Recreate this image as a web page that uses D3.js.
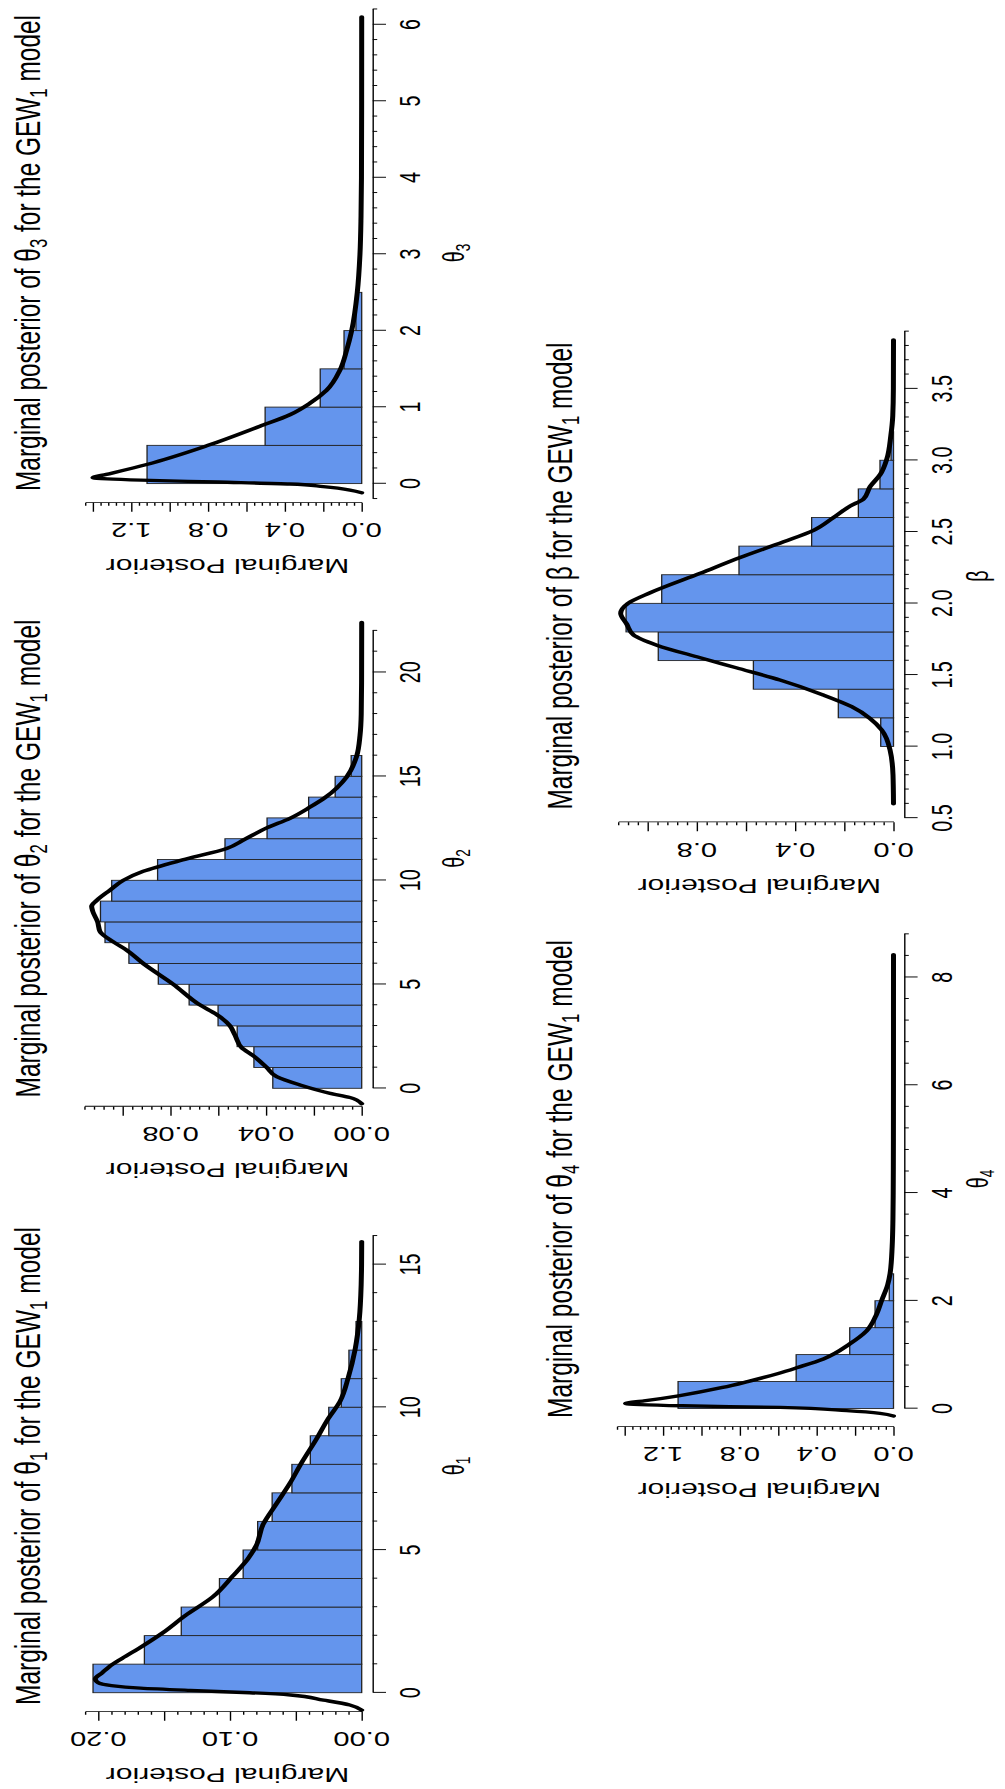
<!DOCTYPE html>
<html>
<head>
<meta charset="utf-8">
<script src="https://cdn.jsdelivr.net/npm/d3@7/dist/d3.min.js"></script>
<style>
  html, body { margin: 0; padding: 0; background: #fff; }
  svg { display: block; }
  text { font-family: "Liberation Sans", Arial, Helvetica, sans-serif; fill: #000; }
</style>
</head>
<body>
<svg id="chart" width="1005" height="1789"></svg>
<script>
// ---------- θ1 ----------
const theta1Breaks = [0,1,2,3,4,5,6,7,8,9,10,11,12,13];
const theta1Density = [0.204,0.165,0.137,0.108,0.090,0.079,0.068,0.053,0.039,0.025,0.0155,0.0097,0.0043];
const theta1CurveX = [-0.61,-0.43,-0.26,-0.08,0,0.08,0.16,0.25,0.35,0.48,0.7,0.9,1.2,1.56,2.1,2.7,3.36,4.08,4.68,5.16,5.88,6.6,7.32,8.04,8.88,9.6,10.2,11.04,12.0,13.1,14.3,15.0,15.8];
const theta1CurveY = [0,0.009,0.029,0.054,0.085,0.13,0.168,0.19,0.2,0.2023,0.197,0.192,0.182,0.169,0.151,0.134,0.113,0.098,0.0865,0.080,0.075,0.065,0.0547,0.0458,0.0344,0.0254,0.0165,0.0102,0.0051,0.0018,0.0004,0.0001,0];
const theta1XAxis = [0, 16];
const theta1XLabels = ["0","5","10","15"];
const theta1YAxis = [0, 0.21];
const theta1YLabels = ["0.00","0.10","0.20"];

// ---------- θ2 ----------
const theta2Breaks = [0,1,2,3,4,5,6,7,8,9,10,11,12,13,14,15,16];
const theta2Density = [0.0372,0.0451,0.0521,0.0601,0.0722,0.0851,0.0974,0.1074,0.1093,0.1046,0.0854,0.0572,0.0396,0.0222,0.0111,0.0044];
const theta2CurveX = [-0.74,-0.44,-0.24,0.16,0.56,1.0,1.56,1.95,2.55,3.0,3.55,4.0,5.0,6.0,6.64,7.04,7.54,8.0,8.5,8.75,9.03,9.53,10.0,10.43,11.03,11.53,11.98,12.52,12.98,13.52,13.98,14.97,15.97,16.97,17.97,19.5,22.4];
const theta2CurveY = [0,0.0049,0.0132,0.0258,0.0356,0.0397,0.0453,0.0502,0.053,0.0551,0.0607,0.0676,0.0788,0.0914,0.0983,0.1039,0.1095,0.1105,0.1125,0.113,0.1109,0.1053,0.0997,0.0914,0.0732,0.0565,0.0488,0.0397,0.03,0.0216,0.0153,0.0063,0.0021,0.0007,0.0002,0.00005,0];
const theta2XAxis = [0, 22];
const theta2XLabels = ["0","5","10","15","20"];
const theta2YAxis = [0, 0.116];
const theta2YLabels = ["0.00","0.04","0.08"];

// ---------- θ3 ----------
const theta3Breaks = [0,0.5,1,1.5,2,2.5];
const theta3Density = [1.118,0.503,0.216,0.092,0.03];
const theta3CurveX = [-0.12,-0.084,-0.04,-0.005,0.02,0.045,0.078,0.12,0.25,0.5,0.75,0.9,1.05,1.22,1.485,1.746,2.0,2.5,3.0,3.5,4.0,5.0,6.1];
const theta3CurveY = [0,0.061,0.2,0.374,0.75,1.15,1.40,1.33,1.12,0.80,0.53,0.374,0.27,0.183,0.113,0.078,0.052,0.023,0.009,0.0035,0.0012,0.0003,0];
const theta3XAxis = [-0.2, 6.2];
const theta3XLabels = ["0","1","2","3","4","5","6"];
const theta3YAxis = [0, 1.44];
const theta3YLabels = ["0.0","0.4","0.8","1.2"];

// ---------- θ4 ----------
const theta4Breaks = [0,0.5,1,1.5,2,2.5];
const theta4Density = [1.122,0.507,0.228,0.096,0.022];
const theta4CurveX = [-0.14,-0.09,-0.04,0.02,0.05,0.095,0.14,0.235,0.39,0.5,0.65,0.76,0.92,1.2,1.44,1.75,2.0,2.3,2.5,3.0,3.5,4.0,5.0,6.0,8.42];
const theta4CurveY = [0,0.07,0.244,0.59,1.1,1.396,1.30,1.12,0.89,0.76,0.60,0.50,0.365,0.227,0.14,0.088,0.062,0.03,0.018,0.007,0.003,0.0015,0.0005,0.0002,0];
const theta4XAxis = [0, 8.8];
const theta4XLabels = ["0","2","4","6","8"];
const theta4YAxis = [0, 1.44];
const theta4YLabels = ["0.0","0.4","0.8","1.2"];

// ---------- β ----------
const betaBreaks = [1.0,1.2,1.4,1.6,1.8,2.0,2.2,2.4,2.6,2.8,3.0,3.2];
const betaDensity = [0.052,0.2245,0.570,0.957,1.088,0.943,0.6286,0.333,0.143,0.055,0.01];
const betaCurveX = [0.6,0.8,0.975,1.115,1.197,1.278,1.36,1.464,1.55,1.62,1.708,1.78,1.854,1.93,2.0,2.074,2.21,2.32,2.43,2.51,2.6,2.68,2.73,2.816,2.9,3.01,3.17,3.31,3.5,3.84];
const betaCurveY = [0,0.002,0.014,0.048,0.096,0.17,0.286,0.462,0.64,0.786,0.963,1.058,1.085,1.11,1.08,0.99,0.786,0.624,0.447,0.325,0.244,0.176,0.122,0.095,0.054,0.027,0.011,0.003,0.0005,0];
const betaXAxis = [0.5, 3.9];
const betaXLabels = ["0.5","1.0","1.5","2.0","2.5","3.0","3.5"];
const betaYAxis = [0, 1.12];
const betaYLabels = ["0.0","0.4","0.8"];

// ---------- layout ----------
// The sheet is laid out in landscape and turned a quarter turn; K squeezes its long side.
const K = 0.68;
const svg = d3.select("#chart");
const sheet = svg.append("g")
  .attr("transform", `translate(0,1789) rotate(-90) scale(${K},1)`);
const vx = X => X / K;

const TOP = { zeroY: 361.7, axisY: 372.7, titleY: 40, tickLabelY: 420, xlabY: 464, ylabY: 227.5 };
const BOTTOM = { zeroY: 893.5, axisY: 904.3, titleY: 571.8, tickLabelY: 951.7, xlabY: 988, ylabY: 759.3 };

const panels = [
  { sym: "θ", sub: "1", row: TOP, refV: 0, refX: 96.3, perUnit: 28.55, yPer: 1317, yAxisX: 77.3, centerX: 323,
    breaks: theta1Breaks, dens: theta1Density, cx: theta1CurveX, cy: theta1CurveY,
    xAxis: theta1XAxis, xMinor: 1, xMajor: 5, xLabels: theta1XLabels,
    yAxis: theta1YAxis, yMinor: 0.01, yMajor: 0.05, yLabels: theta1YLabels, titleLen: 478 },
  { sym: "θ", sub: "2", row: TOP, refV: 0, refX: 700.7, perUnit: 20.8, yPer: 2390, yAxisX: 682.4, centerX: 930.5,
    breaks: theta2Breaks, dens: theta2Density, cx: theta2CurveX, cy: theta2CurveY,
    xAxis: theta2XAxis, xMinor: 1, xMajor: 5, xLabels: theta2XLabels,
    yAxis: theta2YAxis, yMinor: 0.004, yMajor: 0.02, yLabels: theta2YLabels, titleLen: 478 },
  { sym: "θ", sub: "3", row: TOP, refV: 0, refX: 1305.4, perUnit: 76.5, yPer: 192, yAxisX: 1286.3, centerX: 1536,
    breaks: theta3Breaks, dens: theta3Density, cx: theta3CurveX, cy: theta3CurveY,
    xAxis: theta3XAxis, xMinor: 0.2, xMajor: 1, xLabels: theta3XLabels,
    yAxis: theta3YAxis, yMinor: 0.04, yMajor: 0.2, yLabels: theta3YLabels, titleLen: 476 },
  { sym: "θ", sub: "4", row: BOTTOM, refV: 0, refX: 380.5, perUnit: 53.9, yPer: 192, yAxisX: 362.3, centerX: 610,
    breaks: theta4Breaks, dens: theta4Density, cx: theta4CurveX, cy: theta4CurveY,
    xAxis: theta4XAxis, xMinor: 0.4, xMajor: 2, xLabels: theta4XLabels,
    yAxis: theta4YAxis, yMinor: 0.04, yMajor: 0.2, yLabels: theta4YLabels, titleLen: 478 },
  { sym: "β", sub: "", row: BOTTOM, refV: 0.5, refX: 971, perUnit: 143.1, yPer: 245.8, yAxisX: 966.8, centerX: 1213,
    breaks: betaBreaks, dens: betaDensity, cx: betaCurveX, cy: betaCurveY,
    xAxis: betaXAxis, xMinor: 0.1, xMajor: 0.5, xLabels: betaXLabels,
    yAxis: betaYAxis, yMinor: 0.04, yMajor: 0.2, yLabels: betaYLabels, titleLen: 467 }
];

function stepValues(from, to, step) {
  const n = Math.round((to - from) / step);
  return d3.range(n + 1).map(i => +(from + i * step).toFixed(6));
}
const isMultiple = (v, m) => Math.abs(v / m - Math.round(v / m)) < 1e-6;

panels.forEach(p => {
  const g = sheet.append("g");
  const x = d3.scaleLinear()
    .domain([p.refV, p.refV + 1])
    .range([vx(p.refX), vx(p.refX + p.perUnit)]);
  const y = d3.scaleLinear()
    .domain([0, 1])
    .range([p.row.zeroY, p.row.zeroY - p.yPer]);

  // histogram bars
  const bins = p.dens.map((d, i) => ({ x0: p.breaks[i], x1: p.breaks[i + 1], d }));
  g.append("g").selectAll("rect").data(bins).join("rect")
    .attr("x", b => x(b.x0))
    .attr("width", b => x(b.x1) - x(b.x0))
    .attr("y", b => y(b.d))
    .attr("height", b => y(0) - y(b.d))
    .attr("fill", "#6495ED")
    .attr("stroke", "#222")
    .attr("stroke-width", 1.3);

  // posterior density curve
  const pts = p.cx.map((v, i) => [v, p.cy[i]]);
  g.append("path")
    .attr("d", d3.line().x(d => x(d[0])).y(d => y(d[1])).curve(d3.curveMonotoneX)(pts))
    .attr("fill", "none")
    .attr("stroke", "#000")
    .attr("stroke-width", 5)
    .attr("stroke-linejoin", "round")
    .attr("stroke-linecap", "round");

  // x axis (parameter)
  const xa = x.copy().domain(p.xAxis).range(p.xAxis.map(x));
  const xTicks = stepValues(p.xAxis[0], p.xAxis[1], p.xMinor);
  const xMinor = xTicks.filter(v => !isMultiple(v, p.xMajor));
  const xMajor = xTicks.filter(v => isMultiple(v, p.xMajor));
  const gx = g.append("g").attr("transform", `translate(0,${p.row.axisY})`);
  gx.call(d3.axisBottom(xa).tickValues(xMinor).tickSize(4.5).tickSizeOuter(0).tickFormat(""));
  gx.append("g").call(d3.axisBottom(xa).tickValues(xMajor).tickSize(13.3).tickSizeOuter(0).tickFormat(""))
    .select(".domain").remove();
  gx.selectAll("path, line").attr("stroke", "#000").attr("stroke-width", 1.4);

  g.append("g").selectAll("text").data(p.xLabels).join("text")
    .attr("x", s => x(+s))
    .attr("y", p.row.tickLabelY)
    .attr("text-anchor", "middle")
    .attr("font-size", 29)
    .text(s => s);

  // y axis (marginal posterior)
  const ya = y.copy().domain(p.yAxis).range(p.yAxis.map(y));
  const yTicks = stepValues(p.yAxis[0], p.yAxis[1], p.yMinor);
  const yMinor = yTicks.filter(v => !isMultiple(v, p.yMajor));
  const yMajor = yTicks.filter(v => isMultiple(v, p.yMajor));
  const gy = g.append("g").attr("transform", `translate(${vx(p.yAxisX)},0)`);
  gy.call(d3.axisLeft(ya).tickValues(yMinor).tickSize(4.5).tickSizeOuter(0).tickFormat(""));
  gy.append("g").call(d3.axisLeft(ya).tickValues(yMajor).tickSize(13.3).tickSizeOuter(0).tickFormat(""))
    .select(".domain").remove();
  gy.selectAll("path, line").attr("stroke", "#000").attr("stroke-width", 1.4);

  const lx = vx(p.yAxisX - 27.6);
  g.append("g").selectAll("text").data(p.yLabels).join("text")
    .attr("transform", s => `translate(${lx},${y(+s)}) rotate(-90)`)
    .attr("text-anchor", "middle")
    .attr("dy", "0.36em")
    .attr("font-size", 29)
    .text(s => s);

  g.append("text")
    .attr("transform", `translate(${vx(p.yAxisX - 64)},${p.row.ylabY}) rotate(-90)`)
    .attr("text-anchor", "middle")
    .attr("dy", "0.36em")
    .attr("font-size", 30)
    .text("Marginal Posterior");

  // x label
  const xl = g.append("text")
    .attr("x", vx(p.centerX))
    .attr("y", p.row.xlabY)
    .attr("text-anchor", "middle")
    .attr("font-size", 29);
  xl.append("tspan").text(p.sym);
  if (p.sub) xl.append("tspan").attr("font-size", 20).attr("dy", 6).text(p.sub);

  // title
  const t = g.append("text")
    .attr("x", vx(p.centerX))
    .attr("y", p.row.titleY)
    .attr("text-anchor", "middle")
    .attr("font-size", 35)
    .attr("textLength", vx(p.titleLen))
    .attr("lengthAdjust", "spacingAndGlyphs");
  t.append("tspan").text("Marginal posterior of " + p.sym);
  if (p.sub) {
    t.append("tspan").attr("font-size", 24).attr("dy", 7).text(p.sub);
    t.append("tspan").attr("dy", -7).text(" for the GEW");
  } else {
    t.append("tspan").text(" for the GEW");
  }
  t.append("tspan").attr("font-size", 24).attr("dy", 7).text("1");
  t.append("tspan").attr("dy", -7).text(" model");
});
</script>
</body>
</html>
